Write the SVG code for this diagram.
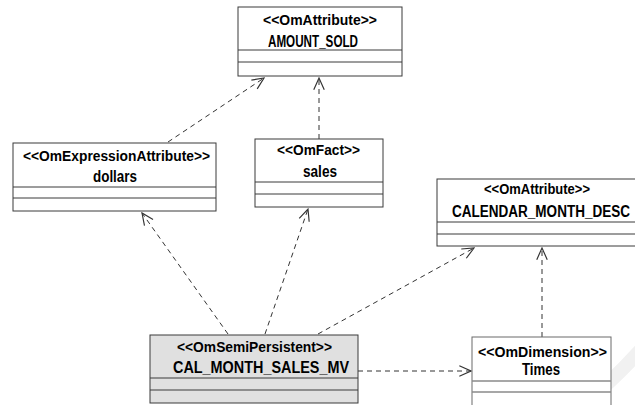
<svg xmlns="http://www.w3.org/2000/svg" width="635" height="405" viewBox="0 0 635 405">
  <style>
    .box { fill: #ffffff; stroke: #3a3a3a; stroke-width: 1; }
    .box.persistent { fill: #e0e0e0; }
    .box.dim { stroke: #6a6a6a; }
    .sep { stroke: #3a3a3a; stroke-width: 1; }
    .sep.dim { stroke: #8a8a8a; stroke-width: 1.6; }
    .label { font-family: "Liberation Sans", Arial, sans-serif; font-size: 15px; font-weight: bold; fill: #000000; }
    .name { font-size: 16px; }
    .dep { fill: none; stroke: #333333; stroke-width: 1; stroke-dasharray: 5 4; marker-end: url(#open); }
  </style>
  <defs>
    <marker id="open" markerUnits="userSpaceOnUse" markerWidth="14" markerHeight="14" viewBox="-11 -6 12 12" refX="0" refY="0" orient="auto">
      <path d="M -10 -4.5 L 0 0 L -10 4.5" fill="none" stroke="#333333" stroke-width="1"/>
    </marker>
  </defs>

  <rect width="635" height="405" fill="#ffffff"/>
  <!-- faint corner swoosh -->
  <path d="M 575 410 Q 610 385 645 345" fill="none" stroke="#f1f1f1" stroke-width="14"/>

  <!-- dependency connectors -->
  <g id="connectors">
    <line class="dep" x1="168" y1="142" x2="264" y2="78"/>
    <line class="dep" x1="319" y1="139" x2="319" y2="78"/>
    <line class="dep" x1="228" y1="334" x2="142" y2="213"/>
    <line class="dep" x1="265" y1="334" x2="308" y2="209"/>
    <line class="dep" x1="318" y1="334" x2="474" y2="248"/>
    <line class="dep" x1="542" y1="337" x2="542" y2="248"/>
    <line class="dep" x1="358" y1="371" x2="471" y2="371"/>
  </g>

  <g id="amount_sold">
    <rect class="box" x="238" y="7" width="164" height="69"/>
    <line class="sep" x1="238" y1="50" x2="402" y2="50"/>
    <line class="sep" x1="238" y1="62" x2="402" y2="62"/>
    <text class="label" x="263" y="25" textLength="114" lengthAdjust="spacingAndGlyphs">&lt;&lt;OmAttribute&gt;&gt;</text>
    <text class="label name" x="268" y="47" textLength="90" lengthAdjust="spacingAndGlyphs">AMOUNT_SOLD</text>
  </g>

  <g id="dollars">
    <rect class="box" x="13" y="143" width="203" height="68"/>
    <line class="sep" x1="13" y1="187" x2="216" y2="187"/>
    <line class="sep" x1="13" y1="198" x2="216" y2="198"/>
    <text class="label" x="23" y="161" textLength="187" lengthAdjust="spacingAndGlyphs">&lt;&lt;OmExpressionAttribute&gt;&gt;</text>
    <text class="label name" x="93" y="182" textLength="44" lengthAdjust="spacingAndGlyphs">dollars</text>
  </g>

  <g id="sales">
    <rect class="box" x="255" y="139" width="128" height="68"/>
    <line class="sep" x1="255" y1="182" x2="383" y2="182"/>
    <line class="sep" x1="255" y1="194" x2="383" y2="194"/>
    <text class="label" x="277" y="155" textLength="83" lengthAdjust="spacingAndGlyphs">&lt;&lt;OmFact&gt;&gt;</text>
    <text class="label name" x="303" y="177" textLength="34" lengthAdjust="spacingAndGlyphs">sales</text>
  </g>

  <g id="calendar_month_desc">
    <rect class="box" x="437" y="179" width="210" height="67"/>
    <line class="sep" x1="437" y1="222" x2="647" y2="222"/>
    <line class="sep" x1="437" y1="234" x2="647" y2="234"/>
    <text class="label" x="484" y="194" textLength="106" lengthAdjust="spacingAndGlyphs">&lt;&lt;OmAttribute&gt;&gt;</text>
    <text class="label name" x="452" y="217" textLength="178" lengthAdjust="spacingAndGlyphs">CALENDAR_MONTH_DESC</text>
  </g>

  <g id="cal_month_sales_mv">
    <rect class="box persistent" x="150" y="335" width="208" height="68"/>
    <line class="sep" x1="150" y1="378" x2="358" y2="378"/>
    <line class="sep" x1="150" y1="390" x2="358" y2="390"/>
    <text class="label" x="177" y="352" textLength="155" lengthAdjust="spacingAndGlyphs">&lt;&lt;OmSemiPersistent&gt;&gt;</text>
    <text class="label name" x="173" y="373" textLength="176" lengthAdjust="spacingAndGlyphs">CAL_MONTH_SALES_MV</text>
  </g>

  <g id="times">
    <rect class="box dim" x="472" y="337" width="139" height="80"/>
    <line class="sep dim" x1="472" y1="381" x2="611" y2="381"/>
    <line class="sep dim" x1="472" y1="392" x2="611" y2="392"/>
    <text class="label" x="478" y="357" textLength="129" lengthAdjust="spacingAndGlyphs">&lt;&lt;OmDimension&gt;&gt;</text>
    <text class="label name" x="522" y="375" textLength="38" lengthAdjust="spacingAndGlyphs">Times</text>
  </g>
</svg>
